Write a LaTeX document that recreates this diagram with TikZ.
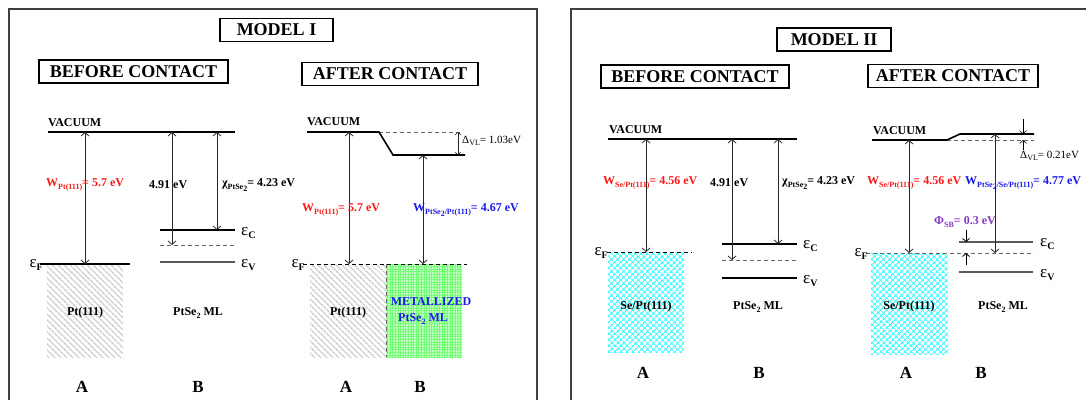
\documentclass[tikz,border=0pt]{standalone}
\usepackage{fontspec}
\setmainfont{Liberation Serif}
\usetikzlibrary{arrows.meta, patterns.meta}

\definecolor{wred}{RGB}{250,25,25}
\definecolor{wblue}{RGB}{25,25,235}
\definecolor{sbviolet}{RGB}{135,55,195}
\newcommand{\lo}[1]{\raisebox{-0.55ex}{\fontsize{8}{8}\selectfont #1}}
\newcommand{\eband}[1]{{\fontsize{17}{17}\selectfont ε}\raisebox{-0.6ex}{\fontsize{10}{10}\selectfont\bfseries #1}}

\begin{document}
\begin{tikzpicture}[x=1pt, y=-1pt,
    frame/.style={draw=black!75, line width=1.8pt},
    title/.style={draw, line width=1.2pt, font=\fontsize{18}{18}\selectfont\bfseries, minimum height=23pt, inner sep=2pt},
    lab/.style={inner sep=0pt, font=\fontsize{12}{12}\selectfont\bfseries},
    big/.style={inner sep=0pt, font=\fontsize{17}{17}\selectfont\bfseries},
    dlt/.style={inner sep=0pt, font=\fontsize{11}{11}\selectfont},
    lvl/.style={line width=1.6pt},
    glvl/.style={line width=1.6pt, black!65},
    dlvl/.style={line width=1pt, dash pattern=on 4pt off 3pt},
    gdlvl/.style={line width=1pt, black!60, dash pattern=on 4pt off 3pt},
    arr/.style={line width=0.8pt, black!85, {Straight Barb[length=3.5pt,width=8pt]}-{Straight Barb[length=3.5pt,width=8pt]}},
    sarr/.style={line width=0.8pt, -{Straight Barb[length=3pt,width=7pt]}},
    hatch/.style={pattern={Lines[angle=-45, distance=4pt, line width=1.4pt]}, pattern color=black!20},
    metalbg/.style={fill=green!22},
    metal/.style={pattern={Hatch[angle=0, distance=2.6pt, line width=0.3pt]}, pattern color=green!55},
    sept/.style={pattern={Hatch[angle=45, distance=4pt, line width=0.9pt]}, pattern color=cyan!85}
]
    \clip (0,0) rectangle (1086,399);
    \draw[frame] (9,9) rectangle (537,420);
    \draw[frame] (571,9) rectangle (1100,420);

    % model I
    \node[title, minimum width=113pt] (m1) at (276.5,30) {MODEL I};
    \node[title, minimum width=189pt] (bc1) at (133.5,71.5) {BEFORE CONTACT};
    \node[title, minimum width=176pt] (ac1) at (390,74) {AFTER CONTACT};

    \fill[hatch] (47,264) rectangle (123,357);
    \node[lab, anchor=west] (vac1) at (48,123) {VACUUM};
    \draw[lvl] (48,132) -- (235,132);
    \draw[lvl] (40,264) -- (130,264);
    \node[anchor=east, inner sep=0pt] (ef1) at (43,265) {\eband{F}};
    \draw[lvl] (160,230) -- (235,230);
    \draw[gdlvl] (160,245) -- (235,245);
    \draw[glvl] (160,262) -- (235,262);
    \node[anchor=west, inner sep=0pt] (ec1) at (241,233) {\eband{C}};
    \node[anchor=west, inner sep=0pt] (ev1) at (241,265) {\eband{V}};
    \draw[arr] (85,132) -- (85,264);
    \draw[arr] (172,132) -- (172,245);
    \draw[arr] (217,132) -- (217,230);
    \node[lab, anchor=west, text=wred] (w1) at (46,185) {W\lo{Pt(111)}= 5.7 eV};
    \node[lab, anchor=west] (g1) at (149,185) {4.91 eV};
    \node[lab, anchor=west] (chi1) at (222,185) {χ\lo{PtSe\lo{2}}= 4.23 eV};
    \node[lab] (pt1) at (85,313) {Pt(111)};
    \node[lab] (ml1) at (198,313) {PtSe\lo{2} ML};
    \node[big] (a1) at (82,387) {A};
    \node[big] (b1) at (198,387) {B};

    \fill[hatch] (310,264) rectangle (386,357);
    \fill[metalbg] (386,264) rectangle (462,357);
    \fill[metal] (386,264) rectangle (462,357);
    \draw[gdlvl, line width=0.8pt] (386,264) -- (386,357);
    \node[lab, anchor=west] (vac2) at (307,122) {VACUUM};
    \draw[gdlvl, line width=0.8pt] (379,132) -- (462,132);
    \draw[lvl] (307,132) -- (379,132) -- (393,155) -- (465,155);
    \draw[arr, line width=0.6pt, {Straight Barb[length=2.5pt,width=6pt]}-{Straight Barb[length=2.5pt,width=6pt]}] (458,132) -- (458,155);
    \node[dlt, anchor=west] (dvl1) at (462,141) {Δ\lo{VL}= 1.03eV};
    \draw[dlvl] (303,264) -- (467,264);
    \node[anchor=east, inner sep=0pt] (ef2) at (305,265) {\eband{F}};
    \draw[arr] (349,132) -- (349,264);
    \draw[arr] (423,155) -- (423,264);
    \node[lab, anchor=west, text=wred] (w2) at (302,210) {W\lo{Pt(111)}= 5.7 eV};
    \node[lab, anchor=west, text=wblue] (w3) at (413,210) {W\lo{PtSe\lo{2}/Pt(111)}= 4.67 eV};
    \node[lab] (pt2) at (348,313) {Pt(111)};
    \node[lab, text=wblue] (mt1) at (431,302) {METALLIZED};
    \node[lab, text=wblue] (ml2) at (423,319) {PtSe\lo{2} ML};
    \node[big] (a2) at (346,387) {A};
    \node[big] (b2) at (420,387) {B};

    % model II
    \node[title, minimum width=114pt] (m2) at (834,39.5) {MODEL II};
    \node[title, minimum width=188pt] (bc2) at (695,76.5) {BEFORE CONTACT};
    \node[title, minimum width=170pt] (ac2) at (953,76) {AFTER CONTACT};

    \fill[sept] (608,252) rectangle (684,352);
    \node[lab, anchor=west] (vac3) at (609,130) {VACUUM};
    \draw[lvl] (608,139) -- (797,139);
    \draw[dlvl] (607,252) -- (692,252);
    \node[anchor=east, inner sep=0pt] (ef3) at (608,253) {\eband{F}};
    \draw[lvl] (722,244) -- (797,244);
    \draw[gdlvl] (722,260) -- (797,260);
    \draw[lvl] (722,278) -- (797,278);
    \node[anchor=west, inner sep=0pt] (ec2) at (803,246) {\eband{C}};
    \node[anchor=west, inner sep=0pt] (ev2) at (803,281) {\eband{V}};
    \draw[arr] (646,139) -- (646,252);
    \draw[arr] (732,139) -- (732,260);
    \draw[arr] (778,139) -- (778,244);
    \node[lab, anchor=west, text=wred] (w4) at (603,183) {W\lo{Se/Pt(111)}= 4.56 eV};
    \node[lab, anchor=west] (g2) at (710,183) {4.91 eV};
    \node[lab, anchor=west] (chi2) at (782,183) {χ\lo{PtSe\lo{2}}= 4.23 eV};
    \node[lab] (se1) at (646,307) {Se/Pt(111)};
    \node[lab] (ml3) at (758,307) {PtSe\lo{2} ML};
    \node[big] (a3) at (643,373) {A};
    \node[big] (b3) at (759,373) {B};

    \fill[sept] (871,253) rectangle (948,354);
    \node[lab, anchor=west] (vac4) at (873,131) {VACUUM};
    \draw[gdlvl, line width=0.8pt] (947,140) -- (1034,140);
    \draw[lvl] (872,140) -- (947,140) -- (960,134) -- (1034,134);
    \draw[sarr, line width=0.6pt] (1023,119) -- (1023,134);
    \draw[sarr, line width=0.6pt] (1023,150) -- (1023,140);
    \node[dlt, anchor=west] (dvl2) at (1020,156) {Δ\lo{VL}= 0.21eV};
    \draw[gdlvl] (866,253) -- (1034,253);
    \node[anchor=east, inner sep=0pt] (ef4) at (868,254) {\eband{F}};
    \draw[glvl] (959,242) -- (1033,242);
    \draw[glvl] (959,272) -- (1033,272);
    \node[anchor=west, inner sep=0pt] (ec3) at (1040,244) {\eband{C}};
    \node[anchor=west, inner sep=0pt] (ev3) at (1040,275) {\eband{V}};
    \draw[sarr] (966,230) -- (966,242);
    \draw[sarr] (966,265) -- (966,253);
    \node[lab, anchor=west, text=sbviolet] (phi1) at (934,222) {Φ\lo{SB}= 0.3 eV};
    \draw[arr] (909,140) -- (909,253);
    \draw[arr] (995,134) -- (995,253);
    \node[lab, anchor=west, text=wred] (w5) at (867,183) {W\lo{Se/Pt(111)}= 4.56 eV};
    \node[lab, anchor=west, text=wblue] (w6) at (965,183) {W\lo{PtSe\lo{2}/Se/Pt(111)}= 4.77 eV};
    \node[lab] (se2) at (909,307) {Se/Pt(111)};
    \node[lab] (ml4) at (1003,307) {PtSe\lo{2} ML};
    \node[big] (a4) at (906,373) {A};
    \node[big] (b4) at (981,373) {B};
\end{tikzpicture}
\end{document}
